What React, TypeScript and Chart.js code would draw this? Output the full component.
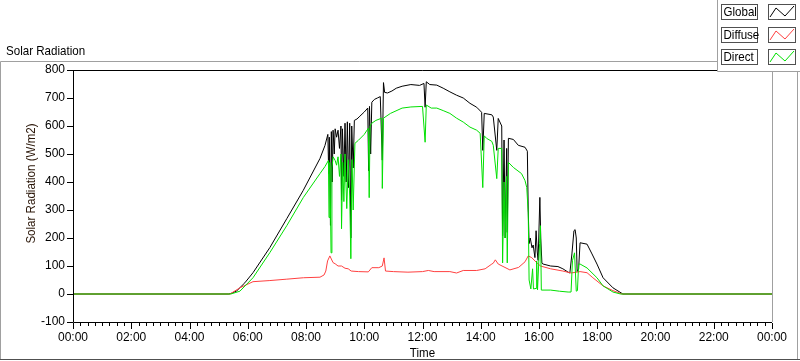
import React, { useEffect, useRef } from "react";
import { Chart, registerables } from "chart.js";

Chart.register(...registerables);

const xTickLabels = ["00:00", "02:00", "04:00", "06:00", "08:00", "10:00", "12:00", "14:00", "16:00", "18:00", "20:00", "22:00", "00:00"];

const globalHours = [0, 5.35, 5.45, 5.62, 5.9, 6.18, 6.76, 7.34, 7.9, 8.48, 8.65, 8.75, 8.78, 8.8, 8.84, 8.87, 8.9, 8.93, 8.97, 9.0, 9.05, 9.1, 9.15, 9.2, 9.22, 9.25, 9.3, 9.34, 9.38, 9.42, 9.46, 9.5, 9.54, 9.57, 9.62, 9.66, 9.75, 9.85, 10.0, 10.12, 10.15, 10.18, 10.22, 10.26, 10.35, 10.45, 10.55, 10.62, 10.66, 10.7, 10.8, 10.95, 11.1, 11.3, 11.6, 11.9, 12.05, 12.09, 12.13, 12.25, 12.49, 12.71, 12.94, 13.17, 13.4, 13.63, 13.86, 14.03, 14.07, 14.12, 14.38, 14.43, 14.55, 14.6, 14.72, 14.75, 14.8, 14.84, 14.89, 14.91, 14.95, 15.12, 15.29, 15.52, 15.6, 15.63, 15.66, 15.7, 15.76, 15.8, 15.86, 15.9, 15.94, 15.97, 16.03, 16.06, 16.1, 16.14, 16.4, 16.65, 16.82, 17.0, 17.06, 17.13, 17.2, 17.24, 17.28, 17.31, 17.36, 17.41, 17.65, 17.82, 17.99, 18.2, 18.54, 18.88, 24];
const globalValues = [0, 0, 3, 11, 40, 76, 166, 269, 369, 484, 530, 570, 430, 560, 245, 580, 400, 585, 500, 590, 560, 585, 520, 600, 335, 590, 420, 610, 400, 615, 380, 610, 200, 600, 450, 620, 625, 635, 650, 664, 440, 670, 500, 685, 695, 700, 705, 478, 755, 720, 718, 725, 735, 742, 748, 745, 752, 667, 758, 748, 746, 735, 722, 710, 700, 681, 667, 649, 513, 645, 640, 632, 513, 627, 600, 208, 550, 200, 520, 220, 556, 552, 531, 524, 510, 300, 180, 200, 165, 175, 130, 226, 150, 120, 345, 200, 110, 107, 100, 98, 90, 78, 75, 143, 226, 230, 200, 80, 90, 183, 178, 143, 107, 58, 22, 0, 0];

const diffuseHours = [0, 5.39, 5.73, 6.18, 6.76, 7.34, 7.91, 8.48, 8.62, 8.68, 8.74, 8.82, 8.87, 8.93, 9.0, 9.1, 9.22, 9.34, 9.45, 9.55, 9.8, 10.14, 10.26, 10.5, 10.62, 10.68, 10.73, 11.0, 11.5, 12.0, 12.2, 12.4, 12.94, 13.17, 13.4, 13.86, 14.15, 14.38, 14.43, 14.5, 14.6, 15.0, 15.3, 15.52, 15.63, 15.75, 15.86, 16.05, 16.4, 16.82, 17.1, 17.41, 17.65, 17.85, 18.2, 18.54, 18.85, 24];
const diffuseValues = [0, 0, 22, 44, 48, 53, 58, 60, 68, 82, 118, 136, 125, 112, 108, 100, 100, 92, 90, 82, 80, 79, 94, 94, 100, 129, 82, 80, 78, 80, 84, 80, 80, 75, 84, 84, 90, 107, 110, 122, 107, 86, 95, 115, 136, 130, 118, 100, 90, 82, 75, 80, 76, 58, 29, 12, 0, 0];

const directHours = [0, 5.42, 5.73, 6.18, 6.76, 7.34, 7.91, 8.48, 8.65, 8.77, 8.79, 8.82, 8.86, 8.89, 8.93, 9.0, 9.05, 9.1, 9.15, 9.2, 9.22, 9.26, 9.3, 9.34, 9.4, 9.45, 9.5, 9.54, 9.58, 9.62, 9.68, 9.8, 10.0, 10.14, 10.17, 10.2, 10.26, 10.4, 10.6, 10.62, 10.66, 10.9, 11.3, 11.6, 12.0, 12.09, 12.13, 12.3, 12.49, 12.71, 12.94, 13.17, 13.4, 13.63, 13.86, 13.98, 14.07, 14.12, 14.2, 14.38, 14.43, 14.55, 14.6, 14.72, 14.75, 14.8, 14.84, 14.88, 14.91, 14.95, 15.12, 15.4, 15.52, 15.58, 15.63, 15.66, 15.72, 15.78, 15.81, 15.9, 15.92, 15.95, 16.02, 16.05, 16.08, 16.4, 16.7, 17.0, 17.1, 17.15, 17.22, 17.28, 17.32, 17.36, 17.41, 17.65, 17.99, 18.2, 18.54, 18.8, 24];
const directValues = [0, 0, 10, 58, 148, 244, 345, 430, 455, 477, 273, 470, 147, 450, 490, 477, 460, 490, 420, 500, 233, 470, 330, 500, 305, 480, 350, 126, 480, 300, 538, 549, 570, 592, 344, 600, 610, 620, 628, 377, 628, 645, 664, 668, 670, 542, 675, 664, 664, 655, 645, 628, 614, 596, 585, 574, 380, 565, 556, 545, 531, 412, 520, 520, 111, 400, 200, 420, 111, 470, 452, 430, 405, 380, 290, 50, 18, 90, 18, 20, 118, 15, 180, 244, 14, 14, 10, 7, 7, 120, 147, 10, 12, 107, 107, 93, 58, 29, 7, 0, 0];

const seriesNames = ["Global", "Diffuse", "Direct"];
const seriesColors = ["#000000", "#ff4040", "#00e000"];

const FONT = '"Liberation Sans", Arial, sans-serif';

const toPoints = (hs: number[], vs: number[]) => hs.map((h, i) => ({ x: h, y: vs[i] }));

function narrowText(ctx: any, text: string, x: number, y: number, align: string) {
  const sx = 0.89;
  ctx.save();
  ctx.translate(x, y);
  ctx.scale(sx, 1);
  ctx.textAlign = align;
  ctx.textBaseline = "middle";
  ctx.fillText(text, 0, 0);
  ctx.restore();
}

const decorPlugin = {
  id: "decor",
  afterDraw(chart: any) {
    const { ctx, chartArea: a, scales } = chart;
    const xs = scales.x;
    ctx.save();
    ctx.lineWidth = 1;
    ctx.strokeStyle = "#a0a0a0";
    ctx.beginPath();
    ctx.moveTo(0.5, 359.5);
    ctx.lineTo(0.5, 61.5);
    ctx.lineTo(718, 61.5);
    ctx.moveTo(797.5, 72);
    ctx.lineTo(797.5, 359.5);
    ctx.stroke();
    ctx.strokeStyle = "#505050";
    ctx.beginPath();
    ctx.moveTo(0, 359.5);
    ctx.lineTo(800, 359.5);
    ctx.stroke();
    ctx.strokeStyle = "#000";
    ctx.beginPath();
    ctx.moveTo(a.left + 0.5, a.top + 0.5);
    ctx.lineTo(a.right, a.top + 0.5);
    ctx.moveTo(a.left + 0.5, a.top);
    ctx.lineTo(a.left + 0.5, a.bottom + 0.5);
    ctx.lineTo(a.right, a.bottom + 0.5);
    ctx.stroke();
    ctx.strokeStyle = "#a0a0a0";
    ctx.beginPath();
    ctx.moveTo(a.right + 0.5, a.top);
    ctx.lineTo(a.right + 0.5, a.bottom);
    ctx.stroke();
    ctx.strokeStyle = "#000";
    ctx.beginPath();
    for (let i = 0; i <= 96; i++) {
      const px = Math.round(xs.getPixelForValue(i / 4)) + 0.5;
      const len = i % 8 === 0 ? 6 : 3;
      ctx.moveTo(px, a.bottom + 1);
      ctx.lineTo(px, a.bottom + 1 + len);
    }
    const ys = scales.y;
    for (let v = -100; v <= 800; v += 100) {
      const py = Math.round(ys.getPixelForValue(v)) + 0.5;
      ctx.moveTo(a.left - 6, py);
      ctx.lineTo(a.left, py);
    }
    ctx.stroke();
    ctx.fillStyle = "#000";
    ctx.font = "13px " + FONT;
    narrowText(ctx, "Solar Radiation", 6, 51, "left");
    narrowText(ctx, "Time", (a.left + a.right) / 2, 353, "center");
    ctx.save();
    ctx.translate(31.5, 183.5);
    ctx.rotate(-Math.PI / 2);
    ctx.fillStyle = "#2a1608";
    narrowText(ctx, "Solar Radiation (W/m2)", 0, 0, "center");
    ctx.restore();
    ctx.fillStyle = "#ffffff";
    ctx.fillRect(718, 0, 82, 72);
    ctx.strokeStyle = "#a0a0a0";
    ctx.beginPath();
    ctx.moveTo(717.5, 0);
    ctx.lineTo(717.5, 71.5);
    ctx.lineTo(800, 71.5);
    ctx.stroke();
    const tops = [4, 27, 49];
    seriesNames.forEach((name, i) => {
      const y = tops[i];
      ctx.strokeStyle = "#505050";
      ctx.strokeRect(721.5, y + 0.5, 36, 15);
      ctx.strokeRect(768.5, y + 0.5, 27, 15);
      ctx.fillStyle = "#000";
      narrowText(ctx, name, 723.5, y + 8.5, "left");
      ctx.strokeStyle = seriesColors[i];
      ctx.beginPath();
      ctx.moveTo(770, y + 13);
      ctx.lineTo(776, y + 4);
      ctx.lineTo(785, y + 12);
      ctx.lineTo(794, y + 2);
      ctx.stroke();
    });
    ctx.restore();
  },
};

export default function App() {
  const ref = useRef<HTMLCanvasElement | null>(null);
  useEffect(() => {
    if (!ref.current) return;
    const chart = new Chart(ref.current, {
      type: "line",
      data: {
        datasets: [
          { label: seriesNames[0], data: toPoints(globalHours, globalValues), borderColor: seriesColors[0], borderWidth: 1, pointRadius: 0, order: 3 },
          { label: seriesNames[1], data: toPoints(diffuseHours, diffuseValues), borderColor: seriesColors[1], borderWidth: 1, pointRadius: 0, order: 2 },
          { label: seriesNames[2], data: toPoints(directHours, directValues), borderColor: seriesColors[2], borderWidth: 1, pointRadius: 0, order: 1 },
        ],
      },
      options: {
        responsive: false,
        animation: false,
        layout: { padding: { left: 0, top: 70, right: 28, bottom: 0 } },
        plugins: { legend: { display: false }, tooltip: { enabled: false }, title: { display: false } },
        scales: {
          x: {
            type: "linear",
            min: 0,
            max: 24,
            grid: { display: false, drawTicks: false },
            border: { display: false },
            ticks: {
              stepSize: 2,
              autoSkip: false,
              maxRotation: 0,
              padding: 8,
              color: "#000",
              font: { family: FONT, size: 12 },
              callback: (_v: any, i: number) => xTickLabels[i],
            },
            afterFit: (s: any) => { s.height = 39; },
          },
          y: {
            min: -100,
            max: 800,
            grid: { display: false, drawTicks: false },
            border: { display: false },
            ticks: { stepSize: 100, padding: 8, color: "#000", font: { family: FONT, size: 12 } },
            afterFit: (s: any) => { s.width = 73; },
          },
        },
      },
      plugins: [decorPlugin],
    });
    return () => chart.destroy();
  }, []);
  return (
    <div style={{ position: "absolute", left: 0, top: 0, width: 800, height: 361, background: "#fff" }}>
      <canvas ref={ref} width={800} height={361} style={{ width: 800, height: 361, display: "block" }} />
    </div>
  );
}
